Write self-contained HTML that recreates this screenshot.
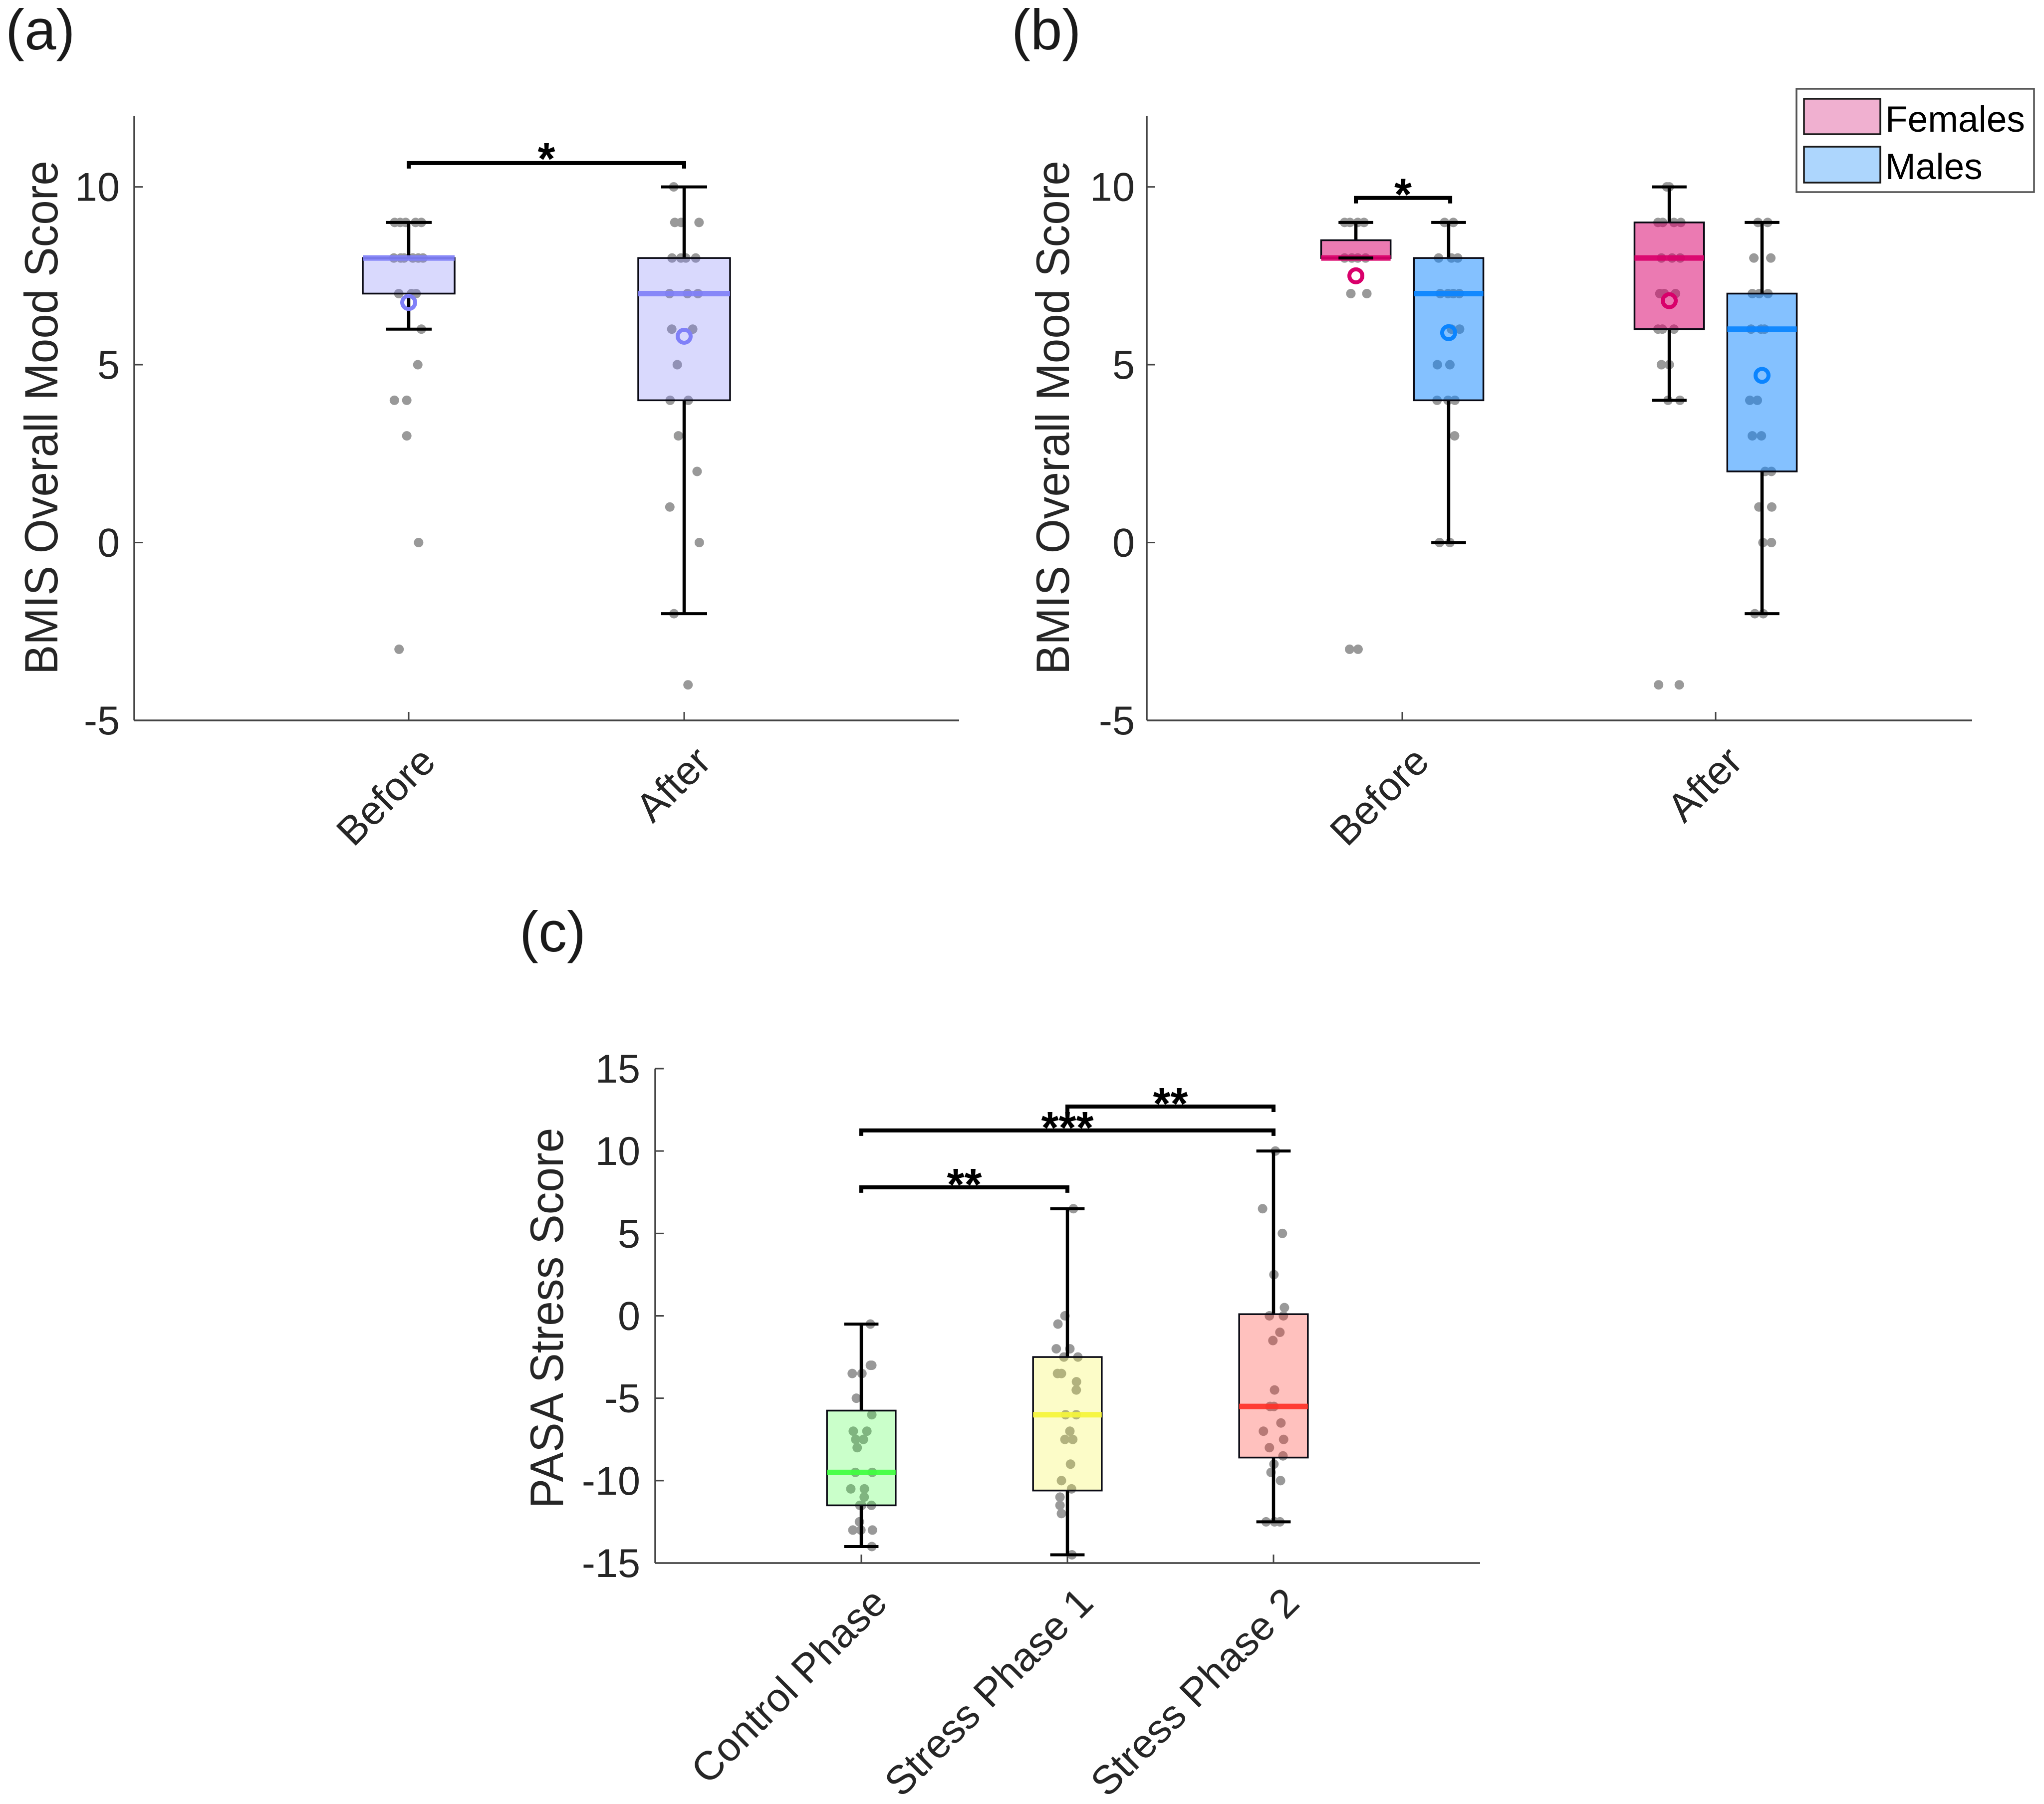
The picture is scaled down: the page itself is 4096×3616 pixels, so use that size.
<!DOCTYPE html>
<html lang="en">
<head>
<meta charset="utf-8">
<title>BMIS mood and PASA stress box charts</title>
<style>
  html, body { margin: 0; padding: 0; background: #ffffff; }
  svg { display: block; font-family: "Liberation Sans", sans-serif; }
</style>
</head>
<body>
<svg id="figure" xmlns="http://www.w3.org/2000/svg" width="4096" height="3616" viewBox="0 0 4096 3616">
  <rect x="0" y="0" width="4096" height="3616" fill="#ffffff"/>
  <text x="11" y="99" font-size="114" fill="#1a1a1a">(a)</text>
  <text x="2027" y="99" font-size="114" fill="#1a1a1a">(b)</text>
  <text x="1041" y="1907" font-size="114" fill="#1a1a1a">(c)</text>
  <text transform="translate(115 837) rotate(-90)" text-anchor="middle" font-size="94" fill="#262626" textLength="1030" lengthAdjust="spacingAndGlyphs">BMIS Overall Mood Score</text>
  <text transform="translate(2142 837) rotate(-90)" text-anchor="middle" font-size="94" fill="#262626" textLength="1030" lengthAdjust="spacingAndGlyphs">BMIS Overall Mood Score</text>
  <text transform="translate(1128 2642) rotate(-90)" text-anchor="middle" font-size="94" fill="#262626" textLength="763" lengthAdjust="spacingAndGlyphs">PASA Stress Score</text>
  <g id="panel-a"></g>
  <g id="panel-b"></g>
  <g id="panel-c"></g>
  <g>
    <rect x="3600" y="178" width="476" height="207" fill="#ffffff" stroke="#555555" stroke-width="3.5"/>
    <rect x="3615" y="198" width="153" height="71" fill="#f0b0d0" stroke="#1a1a1a" stroke-width="3.5"/>
    <text x="3778" y="264" font-size="73" fill="#000000">Females</text>
    <rect x="3615" y="294" width="153" height="72" fill="#add6fd" stroke="#1a1a1a" stroke-width="3.5"/>
    <text x="3778" y="359" font-size="73" fill="#000000">Males</text>
  </g>
</svg>
<script>
// ---------- Panel (a) data ----------
const aCategories = ['Before', 'After'];
const aYTicks = [10, 5, 0, -5];
const aQ1 = [7, 4];
const aMedian = [8, 7];
const aQ3 = [8, 8];
const aWhiskerLow = [6, -2];
const aWhiskerHigh = [9, 10];
const aMean = [6.75, 5.8];
const aBeforeDotValues = [9,9,9,9,9, 8,8,8,8,8,8, 7,7,7, 6, 5, 4,4, 3, 0, -3];
const aBeforeDotJitter = [-.051,-.031,-.011,.025,.046, -.054,-.029,-.017,.015,.035,.052, -.036,.010,.027, .046, .033, -.052,-.007, -.007, .036, -.035];
const aAfterDotValues = [10, 9,9,9, 8,8,8,8, 7,7,7, 6,6, 5, 4,4, 3, 2, 1, 0, -2, -4];
const aAfterDotJitter = [-.038, -.034,-.011,.054, -.044,-.012,.006,.042, -.053,.012,.050, -.045,.031, -.025, -.051,.015, -.021, .047, -.052, .055, -.037, .014];

// ---------- Panel (b) data ----------
const bCategories = ['Before', 'After'];
const bYTicks = [10, 5, 0, -5];
const bFemaleQ1 = [8, 6];
const bFemaleMedian = [8, 8];
const bFemaleQ3 = [8.5, 9];
const bFemaleWhiskerLow = [8, 4];
const bFemaleWhiskerHigh = [9, 10];
const bFemaleMean = [7.5, 6.8];
const bMaleQ1 = [4, 2];
const bMaleMedian = [7, 6];
const bMaleQ3 = [8, 7];
const bMaleWhiskerLow = [0, -2];
const bMaleWhiskerHigh = [9, 9];
const bMaleMean = [5.9, 4.7];
const bFemaleBeforeDotValues = [9,9,9,9, 8,8,8,8, 7,7, -3,-3];
const bFemaleBeforeDotJitter = [-.036,-.019,.006,.026, -.036,-.013,.006,.031, -.016,.035, -.020,.007];
const bMaleBeforeDotValues = [9,9, 8,8,8, 7,7,7,7, 6,6, 5,5, 4,4,4, 3, 0,0];
const bMaleBeforeDotJitter = [-.013,.015, -.032,.009,.029, -.027,-.002,.015,.034, .009,.035, -.036,.004, -.037,-.002,.020, .019, -.029,.004];
const bFemaleAfterDotValues = [10,10, 9,9,9,9, 8,8,8, 7,7,7, 6,6,6, 5,5, 4,4, -4,-4];
const bFemaleAfterDotJitter = [-.008,0, -.036,-.021,.015,.037, -.025,.009,.035, -.030,-.016,.020, -.036,-.022,.015, -.025,0, -.004,.034, -.034,.032];
const bMaleAfterDotValues = [9,9, 8,8, 7,7,7, 6,6,6, 4,4, 3,3, 2,2, 1,1, 0,0, -2,-2];
const bMaleAfterDotJitter = [-.013,.018, -.026,.028, -.031,-.009,.019, -.035,-.003,.008, -.039,-.015, -.031,-.002, .010,.030, -.010,.031, .003,.030, -.023,.004];

// ---------- Panel (c) data ----------
const cCategories = ['Control Phase', 'Stress Phase 1', 'Stress Phase 2'];
const cYTicks = [15, 10, 5, 0, -5, -10, -15];
const cQ1 = [-11.5, -10.6, -8.6];
const cMedian = [-9.5, -6, -5.5];
const cQ3 = [-5.75, -2.5, 0.1];
const cWhiskerLow = [-14, -14.5, -12.5];
const cWhiskerHigh = [-0.5, 6.5, 10];
const cControlDotValues = [-.5, -3,-3, -3.5,-3.5, -5, -6, -7,-7, -7.5,-7.5, -8, -9.5,-9.5, -10.5,-10.5, -11, -11.5,-11.5,-11.5, -12.5, -13,-13,-13, -14];
const cControlDotJitter = [.044, .044,.051, -.044,.003, -.024, .051, -.039,.027, -.027,.010, -.020, -.029,.053, -.051,.015, .014, -.007,.002,.049, -.009, -.041,-.002,.054, .051];
const cStress1DotValues = [6.5, 0, -.5, -2,-2, -2.5,-2.5, -3.5,-3.5, -4, -4.5, -6,-6, -7, -7.5,-7.5, -9, -10, -10.5, -11, -11.5, -12, -14.5];
const cStress1DotJitter = [.029, -.012, -.046, -.054,.012, -.017,.051, -.048,-.029, .044, .043, -.009,.043, .012, -.012,.026, .015, -.029, .020, -.036, -.036, -.029, .022];
const cStress2DotValues = [10, 6.5, 5, 2.5, .5, 0,0, -1, -1.5, -4.5, -5.5,-5.5, -6.5, -7, -7.5, -8, -8.5, -9, -9.5, -10, -12.5,-12.5,-12.5];
const cStress2DotJitter = [.009, -.053, .043, .002, .053, -.020,.048, .031, -.003, .005, -.017,.002, .036, -.049, .049, -.020, .046, .002, -.012, .034, -.036,.005,.031];

// ---------- Significance brackets: start category, end category, height, stars ----------
const aBracketFrom = [1];
const aBracketTo = [2];
const aBracketLevel = [10.67];
const aBracketStars = ['*'];
const bBracketFrom = [0.852];
const bBracketTo = [1.153];
const bBracketLevel = [9.69];
const bBracketStars = ['*'];
const cBracketFrom = [1, 1, 2];
const cBracketTo = [2, 3, 3];
const cBracketLevel = [7.8, 11.25, 12.7];
const cBracketStars = ['**', '***', '**'];

// ---------- Drawing helpers ----------
const SVG_NS = 'http://www.w3.org/2000/svg';
function mk(parent, tag, props) {
  const node = document.createElementNS(SVG_NS, tag);
  for (const key in props) {
    node.setAttribute(key, props[key]);
  }
  parent.appendChild(node);
  return node;
}

function makeXScale(left, right, min, max) {
  return function (v) { return left + (v - min) / (max - min) * (right - left); };
}
function makeYScale(bottom, top, min, max) {
  return function (v) { return bottom - (v - min) / (max - min) * (bottom - top); };
}

function drawAxes(g, cfg, x, y) {
  const axis = '#444444';
  const yLine = mk(g, 'line', { x1: cfg.left, x2: cfg.left, y1: cfg.top, y2: cfg.bottom, stroke: axis, 'stroke-width': 3.5 });
  
  
  const xLine = mk(g, 'line', { x1: cfg.left, x2: cfg.right, y1: cfg.bottom, y2: cfg.bottom, stroke: axis, 'stroke-width': 3.5 });
  
  

  cfg.yTicks.forEach(function (t) {
    const tick = mk(g, 'line', { x1: cfg.left, x2: cfg.left + 17, y1: y(t), y2: y(t), stroke: axis, 'stroke-width': 3 });
    
    
    const label = mk(g, 'text', { x: cfg.yLabelRight, y: y(t) + 28, 'text-anchor': 'end', 'font-size': 81, fill: '#262626' });
    label.textContent = String(t);
    
    
  });

  cfg.categories.forEach(function (name, i) {
    const px = x(i + 1);
    const tick = mk(g, 'line', { x1: px, x2: px, y1: cfg.bottom - 17, y2: cfg.bottom, stroke: axis, 'stroke-width': 3 });
    
    
    const ex = px + cfg.xLabelShift;
    const ey = cfg.bottom + cfg.xLabelDrop;
    const label = mk(g, 'text', { transform: 'translate(' + ex + ' ' + ey + ') rotate(-45)', 'text-anchor': 'end', 'font-size': 81, fill: '#262626' });
    label.textContent = name;
    
    
  });
}

function drawDots(g, cx, jitterScale, y, values, jitter) {
  values.forEach(function (v, i) {
    const dot = mk(g, 'circle', { cx: cx + jitter[i] * jitterScale, cy: y(v), r: 9.5, fill: '#999999' });
    
    
  });
}

function drawBox(g, s) {
  const halfBox = s.boxWidth / 2;
  const halfCap = s.boxWidth / 4;
  const stem1 = mk(g, 'line', { x1: s.cx, x2: s.cx, y1: s.y(s.q3), y2: s.y(s.high), stroke: '#000', 'stroke-width': 6.5 });
  
  
  const stem2 = mk(g, 'line', { x1: s.cx, x2: s.cx, y1: s.y(s.q1), y2: s.y(s.low), stroke: '#000', 'stroke-width': 6.5 });
  
  

  const box = mk(g, 'rect', {
    x: s.cx - halfBox, y: s.y(s.q3), width: s.boxWidth, height: s.y(s.q1) - s.y(s.q3),
    fill: s.color, 'fill-opacity': s.alpha, stroke: '#0a0a14', 'stroke-width': 3.5
  });
  
  

  const med = mk(g, 'line', { x1: s.cx - halfBox, x2: s.cx + halfBox, y1: s.y(s.median), y2: s.y(s.median), stroke: s.color, 'stroke-width': 11, 'stroke-opacity': 0.93 });
  
  

  const cap1 = mk(g, 'line', { x1: s.cx - halfCap, x2: s.cx + halfCap, y1: s.y(s.high), y2: s.y(s.high), stroke: '#000', 'stroke-width': 6 });
  
  
  const cap2 = mk(g, 'line', { x1: s.cx - halfCap, x2: s.cx + halfCap, y1: s.y(s.low), y2: s.y(s.low), stroke: '#000', 'stroke-width': 6 });
  
  

  if (s.mean !== null) {
    const meanMark = mk(g, 'circle', { cx: s.cx, cy: s.y(s.mean), r: 13, fill: 'none', stroke: s.color, 'stroke-width': 8 });
    
    
  }
}

function drawBrackets(g, x, y, from, to, level, stars, starGap) {
  from.forEach(function (f, i) {
    const x1 = x(f), x2 = x(to[i]), py = y(level[i]);
    const path = mk(g, 'path', { d: 'M' + x1 + ' ' + (py + 11) + 'V' + py + 'H' + x2 + 'V' + (py + 11), fill: 'none', stroke: '#000', 'stroke-width': 8 });
    
    
    const star = mk(g, 'text', { x: (x1 + x2) / 2, y: py - starGap + 52, 'text-anchor': 'middle', 'font-size': 90, 'font-weight': 'bold', fill: '#000' });
    star.textContent = stars[i];
    
    
  });
}

// ---------- Panel (a) ----------
(function () {
  const g = document.getElementById('panel-a');
  const cfg = { left: 269, right: 1922, top: 232, bottom: 1444, yLabelRight: 240, xLabelDrop: 87, xLabelShift: 58, yTicks: aYTicks, categories: aCategories };
  const x = makeXScale(267, 1923, 0, 3);
  const y = makeYScale(1444, 232, -5, 12);
  drawAxes(g, cfg, x, y);
  const unit = x(2) - x(1);
  drawDots(g, x(1), unit, y, aBeforeDotValues, aBeforeDotJitter);
  drawDots(g, x(2), unit, y, aAfterDotValues, aAfterDotJitter);
  aCategories.forEach(function (c, i) {
    drawBox(g, { cx: x(i + 1), boxWidth: unit / 3, y: y, q1: aQ1[i], median: aMedian[i], q3: aQ3[i], low: aWhiskerLow[i], high: aWhiskerHigh[i], mean: aMean[i], color: '#8080f8', alpha: 0.3 });
  });
  drawBrackets(g, x, y, aBracketFrom, aBracketTo, aBracketLevel, aBracketStars, 30);
})();

// ---------- Panel (b) ----------
(function () {
  const g = document.getElementById('panel-b');
  const cfg = { left: 2298, right: 3952, top: 232, bottom: 1444, yLabelRight: 2274, xLabelDrop: 87, xLabelShift: 58, yTicks: bYTicks, categories: bCategories };
  const x = makeXScale(2182, 3438, 0, 2);
  const y = makeYScale(1444, 232, -5, 12);
  drawAxes(g, cfg, x, y);
  const unit = x(2) - x(1);
  const off = 0.148;
  drawDots(g, x(1 - off), unit, y, bFemaleBeforeDotValues, bFemaleBeforeDotJitter);
  drawDots(g, x(1 + off), unit, y, bMaleBeforeDotValues, bMaleBeforeDotJitter);
  drawDots(g, x(2 - off), unit, y, bFemaleAfterDotValues, bFemaleAfterDotJitter);
  drawDots(g, x(2 + off), unit, y, bMaleAfterDotValues, bMaleAfterDotJitter);
  bCategories.forEach(function (c, i) {
    drawBox(g, { cx: x(i + 1 - off), boxWidth: unit * 0.2217, y: y, q1: bFemaleQ1[i], median: bFemaleMedian[i], q3: bFemaleQ3[i], low: bFemaleWhiskerLow[i], high: bFemaleWhiskerHigh[i], mean: bFemaleMean[i], color: '#d9006b', alpha: 0.52 });
    drawBox(g, { cx: x(i + 1 + off), boxWidth: unit * 0.2217, y: y, q1: bMaleQ1[i], median: bMaleMedian[i], q3: bMaleQ3[i], low: bMaleWhiskerLow[i], high: bMaleWhiskerHigh[i], mean: bMaleMean[i], color: '#0a84ff', alpha: 0.5 });
  });
  drawBrackets(g, x, y, bBracketFrom, bBracketTo, bBracketLevel, bBracketStars, 28);
})();

// ---------- Panel (c) ----------
(function () {
  const g = document.getElementById('panel-c');
  const cfg = { left: 1313, right: 2966, top: 2142, bottom: 3133, yLabelRight: 1283, xLabelDrop: 84, xLabelShift: 56, yTicks: cYTicks, categories: cCategories };
  const x = makeXScale(1313, 2965, 0, 4);
  const y = makeYScale(3133, 2142, -15, 15);
  drawAxes(g, cfg, x, y);
  const unit = x(2) - x(1);
  drawDots(g, x(1), unit, y, cControlDotValues, cControlDotJitter);
  drawDots(g, x(2), unit, y, cStress1DotValues, cStress1DotJitter);
  drawDots(g, x(3), unit, y, cStress2DotValues, cStress2DotJitter);
  const phaseColors = ['#40ff40', '#f5f53a', '#ff3228'];
  const phaseAlpha = [0.28, 0.28, 0.3];
  cCategories.forEach(function (c, i) {
    drawBox(g, { cx: x(i + 1), boxWidth: unit / 3, y: y, q1: cQ1[i], median: cMedian[i], q3: cQ3[i], low: cWhiskerLow[i], high: cWhiskerHigh[i], mean: null, color: phaseColors[i], alpha: phaseAlpha[i] });
  });
  drawBrackets(g, x, y, cBracketFrom, cBracketTo, cBracketLevel, cBracketStars, 27);
})();
</script>
</body>
</html>
